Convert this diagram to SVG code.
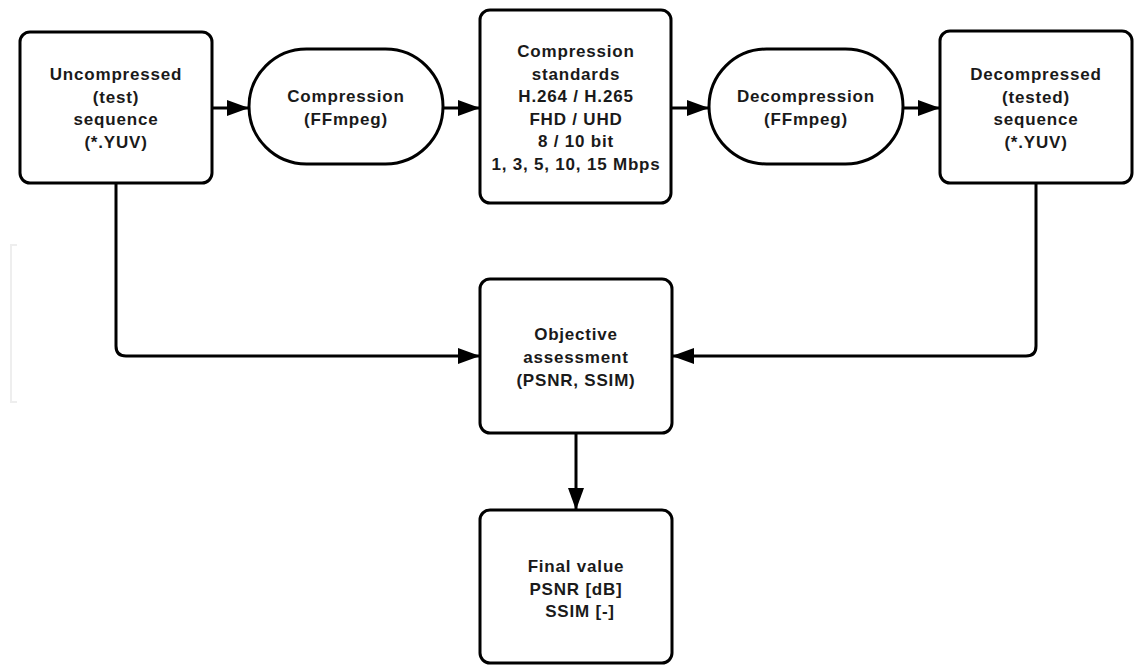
<svg xmlns="http://www.w3.org/2000/svg" width="1135" height="665" viewBox="0 0 1135 665">
<defs>
<marker id="ah" viewBox="0 0 22 16" refX="22" refY="8" markerWidth="22" markerHeight="16" markerUnits="userSpaceOnUse" orient="auto">
<path d="M0,0 L22,8 L0,16 Z" fill="#000"/>
</marker>
<style>
.box{fill:#fff;stroke:#000;stroke-width:3}
.t{font-family:"Liberation Sans",Arial,sans-serif;font-size:17px;font-weight:bold;letter-spacing:0.8px;text-anchor:middle;fill:#1a1a1a}
.c{fill:none;stroke:#000;stroke-width:3}
</style>
</defs>
<rect width="1135" height="665" fill="#fff"/>
<path d="M17,245 H11 V402 H17" fill="none" stroke="#eeeeee" stroke-width="2"/>
<g id="connectors">
<path class="c" d="M212,108 H249" marker-end="url(#ah)"/>
<path class="c" d="M443,108 H480" marker-end="url(#ah)"/>
<path class="c" d="M671,108 H709" marker-end="url(#ah)"/>
<path class="c" d="M903,108 H940" marker-end="url(#ah)"/>
<path class="c" d="M116,183 V346 Q116,356 126,356 H480" marker-end="url(#ah)"/>
<path class="c" d="M1036,183 V346 Q1036,356 1026,356 H672" marker-end="url(#ah)"/>
<path class="c" d="M576,433 V510" marker-end="url(#ah)"/>
</g>
<g id="uncompressed">
<rect class="box" x="20" y="32" width="192" height="151" rx="10"/>
<text class="t" x="116"><tspan x="116" y="80">Uncompressed</tspan><tspan x="116" y="102.5">(test)</tspan><tspan x="116" y="125">sequence</tspan><tspan x="116" y="147.5">(*.YUV)</tspan></text>
</g>
<g id="compression">
<rect class="box" x="249" y="49" width="194" height="115" rx="57.5"/>
<text class="t"><tspan x="346" y="102">Compression</tspan><tspan x="346" y="125">(FFmpeg)</tspan></text>
</g>
<g id="standards">
<rect class="box" x="480" y="10" width="191" height="193" rx="10"/>
<text class="t"><tspan x="576" y="57">Compression</tspan><tspan x="576" y="79.5">standards</tspan><tspan x="576" y="102">H.264 / H.265</tspan><tspan x="576" y="124.5">FHD / UHD</tspan><tspan x="576" y="147">8 / 10 bit</tspan><tspan x="576" y="169.5">1, 3, 5, 10, 15 Mbps</tspan></text>
</g>
<g id="decompression">
<rect class="box" x="709" y="49" width="194" height="115" rx="57.5"/>
<text class="t"><tspan x="806" y="102">Decompression</tspan><tspan x="806" y="125">(FFmpeg)</tspan></text>
</g>
<g id="decompressed">
<rect class="box" x="940" y="31" width="192" height="152" rx="10"/>
<text class="t"><tspan x="1036" y="80">Decompressed</tspan><tspan x="1036" y="102.5">(tested)</tspan><tspan x="1036" y="125">sequence</tspan><tspan x="1036" y="147.5">(*.YUV)</tspan></text>
</g>
<g id="objective">
<rect class="box" x="480" y="279" width="192" height="154" rx="10"/>
<text class="t"><tspan x="576" y="340">Objective</tspan><tspan x="576" y="363">assessment</tspan><tspan x="576" y="386">(PSNR, SSIM)</tspan></text>
</g>
<g id="final">
<rect class="box" x="480" y="510" width="192" height="153" rx="10"/>
<text class="t"><tspan x="576" y="572">Final value</tspan><tspan x="576" y="594.5">PSNR [dB]</tspan><tspan x="580" y="617">SSIM [-]</tspan></text>
</g>
</svg>
